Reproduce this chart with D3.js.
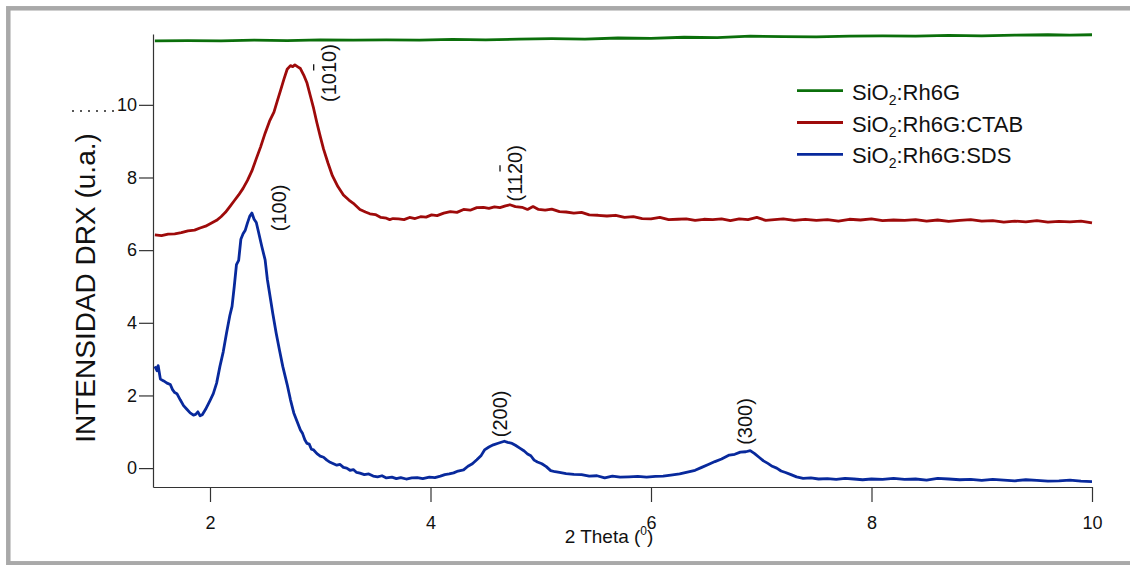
<!DOCTYPE html>
<html><head><meta charset="utf-8">
<script src="https://cdn.jsdelivr.net/npm/d3@7"></script>
<style>body{margin:0;background:#fff;}svg{display:block;font-family:"Liberation Sans",Arial,sans-serif;}</style>
</head><body><svg id="c" width="1130" height="565"></svg>
<script>
// ---- data ----
const xTicks = [2, 4, 6, 8, 10];
const yTicks = [0, 2, 4, 6, 8, 10];
const seriesNames = ["SiO2:Rh6G", "SiO2:Rh6G:CTAB", "SiO2:Rh6G:SDS"];

const greenX = [1.5,1.8,2.1,2.4,2.7,3.0,3.3,3.6,3.9,4.2,4.5,4.8,5.1,5.4,5.7,6.0,6.3,6.6,6.9,7.2,7.5,7.8,8.1,8.4,8.7,9.0,9.3,9.6,9.8,10.0];
const greenY = [11.76,11.77,11.76,11.78,11.77,11.79,11.78,11.79,11.78,11.80,11.79,11.81,11.82,11.81,11.84,11.83,11.86,11.85,11.89,11.88,11.87,11.89,11.90,11.89,11.91,11.90,11.92,11.93,11.92,11.93];

const redX = [1.50,1.56,1.62,1.68,1.74,1.80,1.86,1.91,1.96,2.01,2.06,2.10,2.14,2.18,2.22,2.26,2.30,2.34,2.38,2.42,2.46,2.50,2.54,2.58,2.61,2.64,2.67,2.70,2.73,2.75,2.77,2.80,2.82,2.85,2.88,2.91,2.94,2.97,3.00,3.03,3.07,3.11,3.16,3.21,3.26,3.30,3.36,3.41,3.45,3.50,3.55,3.60,3.63,3.66,3.71,3.76,3.81,3.86,3.91,3.96,4.01,4.06,4.12,4.18,4.24,4.30,4.36,4.42,4.48,4.53,4.58,4.63,4.68,4.72,4.77,4.83,4.88,4.93,4.98,5.04,5.10,5.17,5.23,5.30,5.37,5.44,5.52,5.60,5.68,5.76,5.84,5.92,6.00,6.08,6.16,6.24,6.32,6.40,6.48,6.56,6.64,6.72,6.80,6.88,6.96,7.04,7.12,7.20,7.30,7.40,7.50,7.60,7.70,7.80,7.90,8.00,8.10,8.20,8.30,8.40,8.50,8.60,8.70,8.80,8.90,9.00,9.10,9.20,9.30,9.40,9.50,9.60,9.70,9.80,9.90,10.00];
const redY = [6.42,6.40,6.44,6.45,6.48,6.53,6.55,6.61,6.66,6.74,6.82,6.92,7.04,7.20,7.36,7.52,7.70,7.92,8.18,8.52,8.85,9.22,9.55,9.80,10.10,10.40,10.70,10.98,11.08,11.05,11.10,11.04,11.00,10.82,10.60,10.25,9.90,9.50,9.13,8.78,8.40,8.05,7.75,7.52,7.38,7.29,7.12,7.05,7.00,6.98,6.90,6.88,6.84,6.87,6.86,6.84,6.90,6.87,6.92,6.91,6.97,6.95,7.02,7.06,7.04,7.12,7.10,7.17,7.18,7.15,7.19,7.17,7.22,7.25,7.20,7.18,7.12,7.20,7.12,7.10,7.13,7.06,7.05,7.02,7.04,6.97,6.96,6.94,6.96,6.90,6.92,6.87,6.86,6.90,6.84,6.85,6.86,6.82,6.85,6.84,6.86,6.81,6.86,6.84,6.90,6.82,6.84,6.86,6.82,6.85,6.82,6.84,6.80,6.85,6.83,6.86,6.81,6.83,6.82,6.84,6.80,6.83,6.79,6.82,6.84,6.80,6.81,6.77,6.80,6.78,6.81,6.77,6.79,6.78,6.80,6.75];

const blueX = [1.50,1.52,1.53,1.55,1.58,1.61,1.64,1.66,1.68,1.70,1.73,1.76,1.79,1.82,1.85,1.87,1.89,1.91,1.93,1.96,2.00,2.03,2.06,2.09,2.12,2.15,2.18,2.20,2.22,2.24,2.26,2.28,2.30,2.32,2.34,2.36,2.38,2.40,2.42,2.44,2.47,2.50,2.52,2.54,2.57,2.60,2.63,2.66,2.70,2.73,2.76,2.79,2.82,2.84,2.86,2.88,2.90,2.92,2.94,2.97,3.00,3.03,3.06,3.09,3.12,3.15,3.18,3.21,3.24,3.27,3.30,3.33,3.36,3.40,3.44,3.48,3.52,3.56,3.60,3.65,3.69,3.73,3.78,3.83,3.88,3.93,3.99,4.04,4.09,4.13,4.17,4.21,4.25,4.30,4.34,4.38,4.42,4.46,4.49,4.53,4.57,4.62,4.67,4.70,4.74,4.77,4.81,4.85,4.88,4.91,4.94,4.97,5.01,5.05,5.09,5.13,5.17,5.23,5.30,5.37,5.44,5.51,5.58,5.65,5.72,5.80,5.88,5.96,6.04,6.11,6.18,6.26,6.33,6.40,6.46,6.52,6.58,6.64,6.71,6.76,6.81,6.86,6.90,6.94,6.98,7.02,7.06,7.10,7.14,7.18,7.22,7.27,7.32,7.38,7.45,7.52,7.60,7.68,7.76,7.84,7.92,8.00,8.10,8.20,8.30,8.40,8.50,8.60,8.70,8.80,8.90,9.00,9.10,9.20,9.30,9.40,9.50,9.60,9.70,9.80,9.90,10.00];
const blueY = [2.80,2.68,2.82,2.45,2.40,2.34,2.30,2.16,2.08,2.05,1.88,1.72,1.62,1.52,1.46,1.48,1.55,1.44,1.47,1.62,1.86,2.05,2.34,2.80,3.20,3.72,4.20,4.45,5.00,5.60,5.72,6.30,6.45,6.55,6.75,6.93,7.02,6.85,6.76,6.50,6.10,5.73,5.20,4.82,4.25,3.72,3.25,2.80,2.30,1.88,1.52,1.28,1.05,0.95,0.78,0.68,0.66,0.52,0.50,0.40,0.33,0.30,0.22,0.16,0.12,0.08,0.10,0.02,0.00,-0.06,-0.04,-0.12,-0.14,-0.18,-0.16,-0.22,-0.24,-0.21,-0.27,-0.25,-0.29,-0.26,-0.30,-0.27,-0.26,-0.29,-0.25,-0.26,-0.22,-0.18,-0.16,-0.13,-0.08,-0.05,0.05,0.12,0.23,0.35,0.50,0.58,0.64,0.69,0.74,0.71,0.68,0.63,0.55,0.47,0.39,0.34,0.22,0.17,0.12,0.04,-0.07,-0.10,-0.12,-0.15,-0.17,-0.18,-0.22,-0.21,-0.27,-0.22,-0.25,-0.24,-0.23,-0.25,-0.23,-0.22,-0.19,-0.16,-0.11,-0.06,0.02,0.10,0.18,0.25,0.36,0.38,0.44,0.45,0.48,0.40,0.30,0.20,0.13,0.05,0.00,-0.08,-0.12,-0.18,-0.24,-0.28,-0.27,-0.30,-0.29,-0.31,-0.28,-0.30,-0.32,-0.30,-0.31,-0.28,-0.31,-0.30,-0.33,-0.28,-0.30,-0.32,-0.31,-0.34,-0.31,-0.33,-0.35,-0.32,-0.34,-0.36,-0.35,-0.33,-0.36,-0.37];

// peak labels: text, 2theta, intensity, index of char with overbar (-1 none)
const peakText = ["(100)", "(1010)", "(1120)", "(200)", "(300)"];
const peakX = [2.69, 3.14, 4.83, 4.69, 6.92];
const peakY = [6.52, 10.08, 7.34, 0.85, 0.64];
const peakBar = [-1, 3, 3, -1, -1];

// ---- chart ----
const colors = ["#0b6f0b", "#9e0a0a", "#08299c"];
const svg = d3.select("#c");
svg.append("rect").attr("x",0).attr("y",0).attr("width",1130).attr("height",565).attr("fill","#fff");
svg.append("rect").attr("x",8.3).attr("y",8.3).attr("width",1140).attr("height",555).attr("fill","none").attr("stroke","#a9a9a9").attr("stroke-width",4.5);

const x = d3.scaleLinear().domain([1.483, 10]).range([153, 1092]);
const y = d3.scaleLinear().domain([-0.52, 11.95]).range([487, 34]);

const xAxis = svg.append("g").attr("transform","translate(0,487)")
  .call(d3.axisBottom(x).tickValues(xTicks).tickFormat(d3.format("d")).tickSize(15).tickPadding(14).tickSizeOuter(0));
const yAxis = svg.append("g").attr("transform","translate(153,0)")
  .call(d3.axisLeft(y).tickValues(yTicks).tickFormat(d3.format("d")).tickSize(14).tickPadding(2).tickSizeOuter(0));
[xAxis, yAxis].forEach(g => {
  g.select(".domain").attr("stroke","#333").attr("stroke-width",1.2);
  g.selectAll(".tick line").attr("stroke","#333").attr("stroke-width",1.2);
  g.selectAll(".tick text").attr("fill","#111").style("font-size","18px").style("font-family","Liberation Sans, Arial, sans-serif");
});

const line = d3.line().x(d => x(d[0])).y(d => y(d[1]));
const series = [d3.zip(greenX, greenY), d3.zip(redX, redY), d3.zip(blueX, blueY)];
series.forEach((s, i) => {
  svg.append("path").datum(s).attr("d", line).attr("fill","none")
    .attr("stroke", colors[i]).attr("stroke-width", 2.8).attr("stroke-linejoin","round");
});

// y label
svg.append("text").attr("transform","translate(95,288) rotate(-90)").attr("text-anchor","middle")
  .style("font-size","28px").attr("fill","#111").text("INTENSIDAD DRX (u.a.)");
// stray dotted artifact
svg.append("line").attr("x1",72).attr("x2",118).attr("y1",111).attr("y2",111)
  .attr("stroke","#222").attr("stroke-width",1.5).attr("stroke-dasharray","2,6");

// x label
const xl = svg.append("text").attr("x",609).attr("y",543).attr("text-anchor","middle")
  .style("font-size","19px").attr("fill","#111");
xl.append("tspan").text("2 Theta (");
xl.append("tspan").text("0").style("font-size","12px").attr("dy",-8);
xl.append("tspan").text(")").attr("dy",8);

// peak labels
peakText.forEach((t, i) => {
  const g = svg.append("g").attr("transform", `translate(${x(peakX[i])},${y(peakY[i])}) rotate(-90)`);
  const tx = g.append("text").style("font-size","20px").attr("fill","#111").text(t);
  if (peakBar[i] >= 0) {
    const node = tx.node();
    const s = node.getSubStringLength(0, peakBar[i]);
    const w = node.getSubStringLength(peakBar[i], 1);
    g.append("line").attr("x1", s + w*0.22).attr("x2", s + w*0.78).attr("y1", -22).attr("y2", -22)
      .attr("stroke","#111").attr("stroke-width",1.3);
  }
});

// legend
seriesNames.forEach((n, i) => {
  const ly = 90.7 + i * 31.8;
  svg.append("line").attr("x1",797).attr("x2",843).attr("y1",ly).attr("y2",ly)
    .attr("stroke",colors[i]).attr("stroke-width",2.8);
  const parts = n.split("2");
  const t = svg.append("text").attr("x",852).attr("y",ly+9).style("font-size","22px").attr("fill","#111");
  t.append("tspan").text(parts[0]);
  t.append("tspan").text("2").style("font-size","14px").attr("dy",5);
  t.append("tspan").text(parts.slice(1).join("2")).attr("dy",-5);
});
</script></body></html>
